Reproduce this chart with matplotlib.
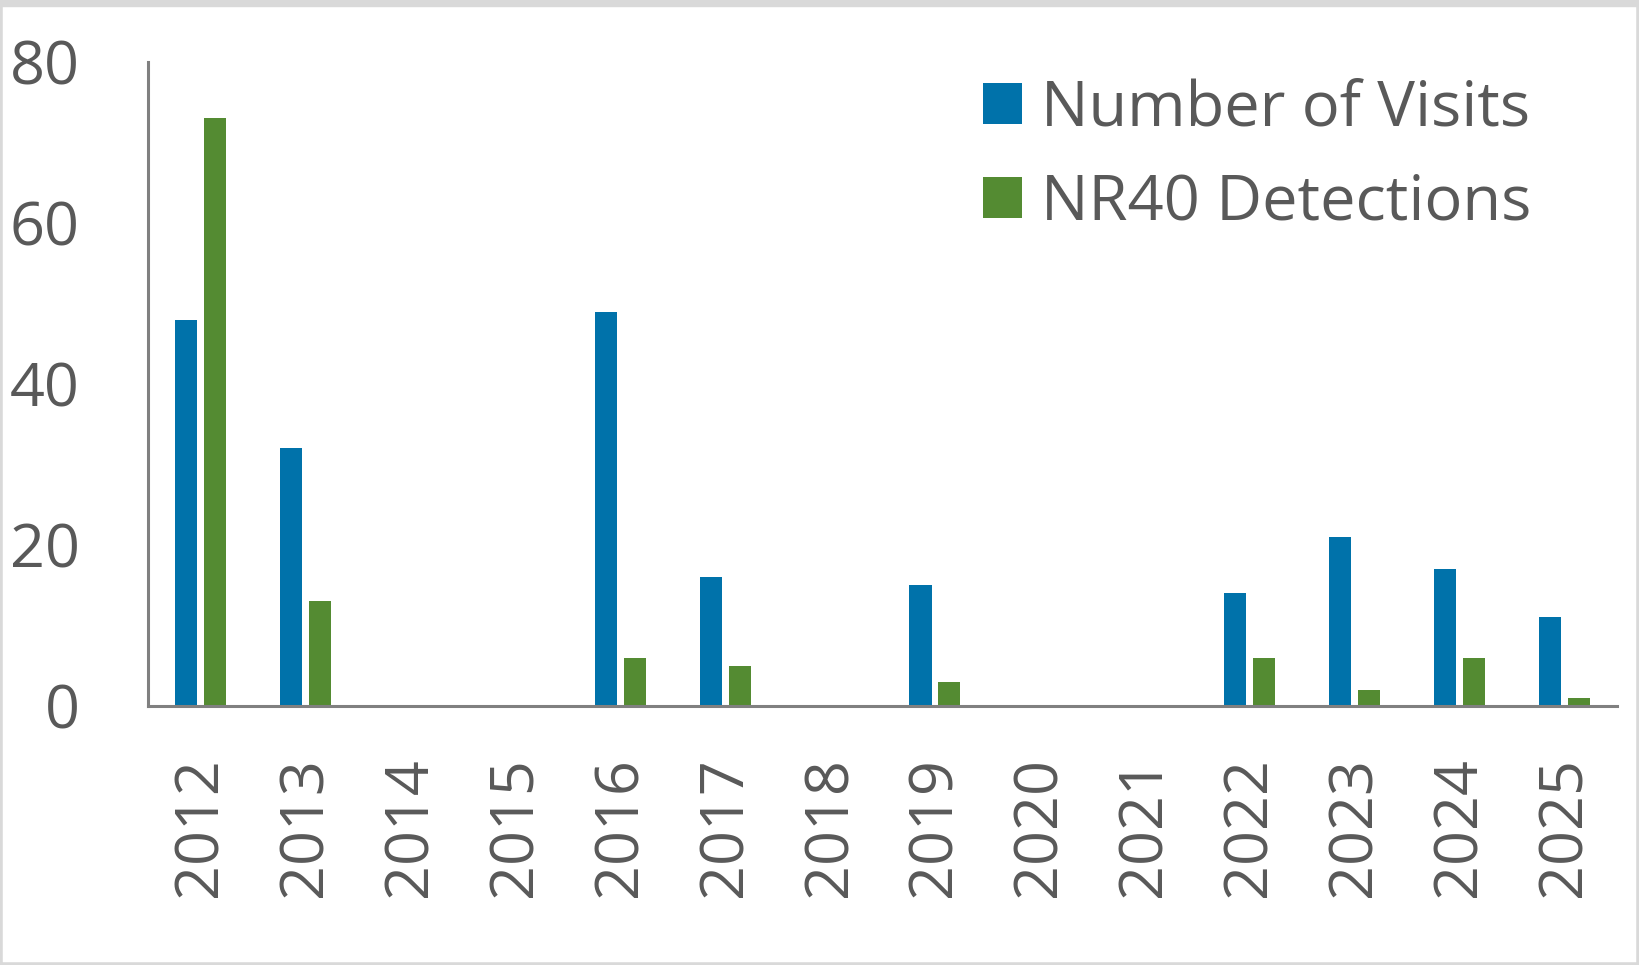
import numpy as np
import matplotlib.pyplot as plt
from matplotlib.patches import Rectangle

years = ["2012", "2013", "2014", "2015", "2016", "2017", "2018",
         "2019", "2020", "2021", "2022", "2023", "2024", "2025"]
visits = [48, 32, 0, 0, 49, 16, 0, 15, 0, 0, 14, 21, 17, 11]
detections = [73, 13, 0, 0, 6, 5, 0, 3, 0, 0, 6, 2, 6, 1]
yticks = [0, 20, 40, 60, 80]

blue = "#0072AA"
green = "#548B32"
text_col = "#595959"
axis_col = "#808080"

plt.rcParams['font.family'] = ['Open Sans', 'DejaVu Sans']

fig = plt.figure(figsize=(16.39, 9.65), dpi=100)
ax = fig.add_axes([0.0903, 0.2684, 0.8963, 0.6674])

x = np.arange(len(years))
w = 0.21
off = 0.138
ax.bar(x - off, visits, width=w, color=blue, label="Number of Visits")
ax.bar(x + off, detections, width=w, color=green, label="NR40 Detections")

ax.set_xlim(-0.5, len(years) - 0.5)
ax.set_ylim(0, 80)
ax.set_yticks(yticks)
ax.set_xticks(x)
ax.set_xticklabels(years, rotation=90)

for s in ["top", "right"]:
    ax.spines[s].set_visible(False)
for s in ["left", "bottom"]:
    ax.spines[s].set_color(axis_col)
    ax.spines[s].set_linewidth(2.2)

ax.tick_params(axis="y", length=0, pad=49, labelsize=44, labelcolor=text_col)
ax.tick_params(axis="x", length=0, pad=37, labelsize=44, labelcolor=text_col)

leg = ax.legend(loc="upper left", bbox_to_anchor=(983 / 1639, 1 - 78 / 965),
                bbox_transform=fig.transFigure, frameon=False, fontsize=45.5,
                handlelength=0.62, handleheight=0.62, handletextpad=0.3,
                labelspacing=0.5, borderpad=0, borderaxespad=0)
for t in leg.get_texts():
    t.set_color(text_col)

# light grey frame around the picture
fig.patches.append(Rectangle((0, 0), 1, 1, transform=fig.transFigure,
                             fill=False, edgecolor="#d9d9d9", linewidth=4))
fig.patches.append(Rectangle((0, 1 - 6 / 965), 1, 6 / 965, transform=fig.transFigure,
                             color="#d9d9d9"))

fig.savefig("out.png", dpi=100)
